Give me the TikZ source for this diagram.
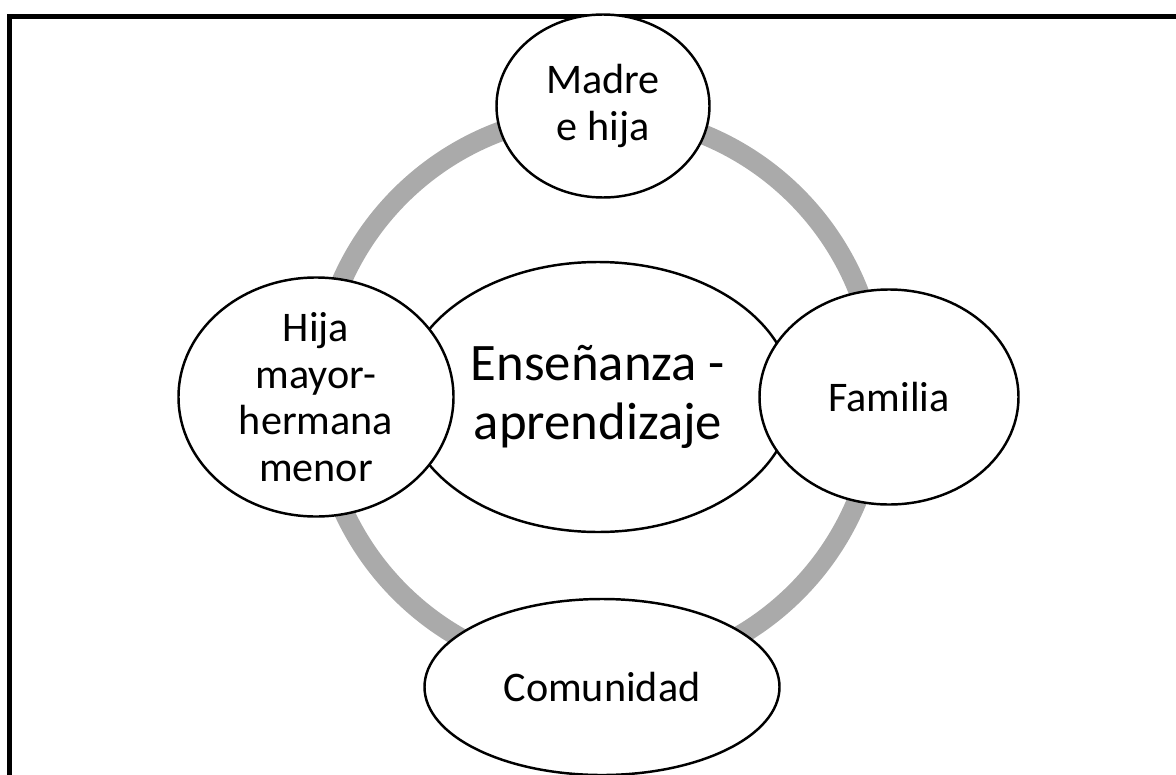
\documentclass[tikz,border=0pt]{standalone}
\usepackage{fontspec}
\setmainfont{Carlito}
\usepackage{xcolor}
\usepackage{tikz}
\usetikzlibrary{positioning, backgrounds, shapes.geometric}

\definecolor{ringgray}{HTML}{AAAAAA}

\begin{document}
\begin{tikzpicture}[
        on grid,
        every node/.style={ellipse, draw, line width=1.4pt, fill=white, align=center, inner sep=0pt},
        outer/.style={font=\fontsize{24}{26.5}\selectfont},
        core/.style={font=\fontsize{30}{34}\selectfont},
        ring/.style={line width=0.4cm, draw=ringgray}
    ]

    \useasboundingbox (0,0) rectangle (23.52,-15.5);

    % Frame
    \begin{scope}
        \clip (0,0) rectangle (23.52,-15.5);
        \draw[line width=0.1cm] (0.19,-0.33) rectangle (24.5,-16.5);
    \end{scope}

    % Nodes
    \node[core, minimum width=7.8cm, minimum height=5.4cm] (ens) at (11.96,-7.94) {Enseñanza -\\aprendizaje};

    \node[outer, minimum width=4.26cm, minimum height=3.66cm, above=5.82cm of ens, xshift=0.1cm] (madre) {Madre\\e hija};
    \node[outer, minimum width=5.18cm, minimum height=4.3cm, right=5.82cm of ens] (familia) {Familia};
    \node[outer, minimum height=3.52cm, minimum width=7.1cm, below=5.8cm of ens, xshift=0.08cm] (comunidad) {Comunidad};
    \node[outer, minimum width=5.5cm, minimum height=4.44cm, left=5.64cm of ens] (hija) {Hija\\mayor-\\hermana\\menor};

    % Ring
    \begin{pgfonlayer}{background}
        \draw[ring] ([yshift=0.06cm]ens.center) circle (5.6cm);
    \end{pgfonlayer}

\end{tikzpicture}
\end{document}
